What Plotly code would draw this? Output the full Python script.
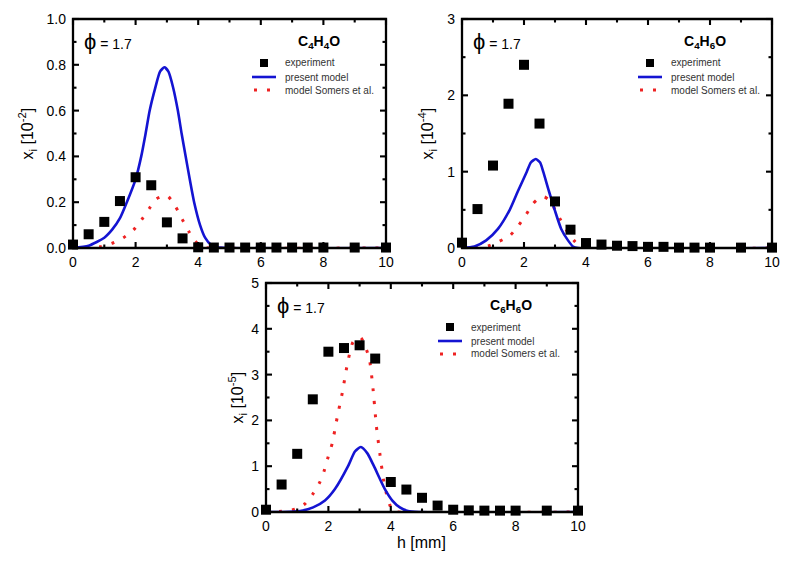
import plotly.graph_objects as go

# page has an 8px body margin: figure is 784x561 placed at (8, 8) in the 800x577 window
OFF = 8
W, H = 784, 561

# ---------------- data ----------------
h_exp = [0, 0.5, 1, 1.5, 2, 2.5, 3, 3.5, 4, 4.5, 5, 5.5, 6, 6.5, 7, 7.5, 8, 9, 10]

c4h4o_exp = [0.015, 0.06, 0.114, 0.205, 0.309, 0.274, 0.112, 0.042, 0.003, 0.002,
             0.002, 0.002, 0.002, 0.002, 0.002, 0.002, 0.002, 0.002, 0.002]
c4h6o_exp = [0.07, 0.51, 1.08, 1.89, 2.40, 1.63, 0.61, 0.24, 0.065, 0.045,
             0.03, 0.025, 0.015, 0.015, 0.005, 0.005, 0.005, 0.005, 0.005]
c6h6o_exp = [0.05, 0.6, 1.27, 2.46, 3.5, 3.58, 3.64, 3.35, 0.655, 0.49,
             0.31, 0.14, 0.05, 0.035, 0.03, 0.03, 0.03, 0.03, 0.03]

c4h4o_present_h = [0, 0.5, 1.0, 1.25, 1.5, 1.72, 2.0, 2.18, 2.32, 2.45, 2.63, 2.78, 2.92,
                   3.05, 3.2, 3.35, 3.47, 3.6, 3.73, 3.87, 4.06, 4.22, 4.4, 4.6, 5, 10]
c4h4o_present = [0, 0.01, 0.045, 0.08, 0.13, 0.2, 0.3, 0.4, 0.5, 0.6, 0.7, 0.77, 0.789,
                 0.77, 0.7, 0.6, 0.5, 0.4, 0.3, 0.2, 0.1, 0.045, 0.015, 0.003, 0, 0]
c4h4o_somers_h = [0, 0.5, 0.86, 1.24, 1.61, 1.94, 2.2, 2.45, 2.67, 3.01, 3.28, 3.49,
                  3.71, 3.87, 4.05, 4.25, 4.4, 10]
c4h4o_somers = [0, 0.001, 0.005, 0.02, 0.045, 0.08, 0.125, 0.175, 0.215, 0.228, 0.18,
                0.125, 0.07, 0.035, 0.012, 0.002, 0, 0]

c4h6o_present_h = [0, 0.4, 0.78, 1.16, 1.54, 1.81, 2.09, 2.22, 2.38, 2.52, 2.62, 2.8,
                   2.99, 3.2, 3.42, 3.58, 3.74, 10]
c4h6o_present = [0, 0.02, 0.1, 0.25, 0.5, 0.75, 1.0, 1.12, 1.166, 1.12, 1.0, 0.75,
                 0.5, 0.25, 0.1, 0.02, 0, 0]
c4h6o_somers_h = [0, 0.5, 0.84, 1.16, 1.54, 1.83, 2.08, 2.29, 2.45, 2.65, 2.8, 2.95,
                  3.15, 3.42, 3.63, 3.8, 4.0, 10]
c4h6o_somers = [0, 0.005, 0.026, 0.08, 0.16, 0.3, 0.445, 0.58, 0.64, 0.67, 0.63,
                0.54, 0.39, 0.2, 0.09, 0.03, 0, 0]

c6h6o_present_h = [0, 0.55, 1.09, 1.51, 1.89, 2.21, 2.63, 2.85, 3.04, 3.25, 3.46,
                   3.81, 4.05, 4.29, 4.55, 4.9, 10]
c6h6o_present = [0, 0, 0.02, 0.1, 0.25, 0.5, 1.0, 1.32, 1.42, 1.28, 1.0,
                 0.5, 0.25, 0.1, 0.02, 0, 0]
c6h6o_somers_h = [0, 0.5, 0.93, 1.25, 1.51, 1.73, 1.87, 1.99, 2.12, 2.28, 2.45, 2.6,
                  2.79, 3.03, 3.3, 3.43, 3.54, 3.65, 3.77, 3.86, 3.97, 4.07, 4.2, 10]
c6h6o_somers = [0, 0.015, 0.06, 0.18, 0.4, 0.66, 0.91, 1.2, 1.49, 2.06, 2.62, 3.2,
                3.71, 3.81, 3.38, 2.69, 1.86, 1.27, 0.69, 0.4, 0.15, 0.02, 0, 0]

species = ["C<sub>4</sub>H<sub>4</sub>O", "C<sub>4</sub>H<sub>6</sub>O", "C<sub>6</sub>H<sub>6</sub>O"]
ytitles = ["x<sub>i</sub> [10<sup>-2</sup>]", "x<sub>i</sub> [10<sup>-4</sup>]",
           "x<sub>i</sub> [10<sup>-5</sup>]"]
xtitle = "h [mm]"
legend_labels = ["experiment", "present model", "model Somers et al."]
phi_text = "<span style='font-size:22px'>ϕ</span> = 1.7"

x_major = [0, 2, 4, 6, 8, 10]
x_minor = [1, 3, 5, 7, 9]
y_major = [[0, 0.2, 0.4, 0.6, 0.8, 1.0], [0, 1, 2, 3], [0, 1, 2, 3, 4, 5]]
y_minor = [[0.1, 0.3, 0.5, 0.7, 0.9], [0.5, 1.5, 2.5], [0.5, 1.5, 2.5, 3.5, 4.5]]

# ---------------- layout geometry (window pixels) ----------------
boxes = [(73, 386, 19, 248), (462, 772, 19, 248), (266, 578, 283, 512)]
yranges = [[0, 1], [0, 3], [0, 5]]
ytitle_x = [28, 428, 237]

BLUE = "#1414d2"
RED = "#ee2222"
FONT = "Arial, Liberation Sans, sans-serif"

def fx(p):
    return (p - OFF) / W

def fy(p):
    return 1 - (p - OFF) / H

fig = go.Figure()

panels = [
    (c4h4o_exp, c4h4o_present_h, c4h4o_present, c4h4o_somers_h, c4h4o_somers),
    (c4h6o_exp, c4h6o_present_h, c4h6o_present, c4h6o_somers_h, c4h6o_somers),
    (c6h6o_exp, c6h6o_present_h, c6h6o_present, c6h6o_somers_h, c6h6o_somers),
]

for i, (exp, ph, pv, sh, sv) in enumerate(panels):
    xa = "x" if i == 0 else f"x{i+1}"
    ya = "y" if i == 0 else f"y{i+1}"
    fig.add_trace(go.Scatter(x=sh, y=sv, xaxis=xa, yaxis=ya, mode="lines",
                             line=dict(color=RED, width=3, dash="3px,10px", shape="spline", smoothing=0.6),
                             cliponaxis=False, showlegend=False))
    fig.add_trace(go.Scatter(x=ph, y=pv, xaxis=xa, yaxis=ya, mode="lines",
                             line=dict(color=BLUE, width=2.6, shape="spline", smoothing=0.6),
                             cliponaxis=False, showlegend=False))
    fig.add_trace(go.Scatter(x=h_exp, y=exp, xaxis=xa, yaxis=ya, mode="markers",
                             marker=dict(symbol="square", size=10, color="black"),
                             cliponaxis=False, showlegend=False))

fig.update_layout(template="none", width=W, height=H, margin=dict(l=0, r=0, t=0, b=0),
                  paper_bgcolor="white", plot_bgcolor="rgba(0,0,0,0)",
                  font=dict(family=FONT, color="black", size=14))

shapes = []
annotations = []
for i, (l, r, t, b) in enumerate(boxes):
    ya = "y" if i == 0 else f"y{i+1}"
    xa = "x" if i == 0 else f"x{i+1}"
    xkey = "xaxis" if i == 0 else f"xaxis{i+1}"
    ykey = "yaxis" if i == 0 else f"yaxis{i+1}"
    fig.update_layout({
        xkey: dict(domain=[fx(l), fx(r)], range=[0, 10], anchor=ya, automargin=False,
                   tickmode="array", tickvals=x_major, ticks="", showline=False,
                   showgrid=False, zeroline=False, ticklabelstandoff=4,
                   tickfont=dict(size=14, color="black")),
        ykey: dict(domain=[fy(b), fy(t)], range=yranges[i], anchor=xa, automargin=False,
                   tickmode="array", tickvals=y_major[i], ticks="", showline=False,
                   showgrid=False, zeroline=False, ticklabelstandoff=6,
                   tickformat=".1f" if i == 0 else "d",
                   tickfont=dict(size=14, color="black")),
    })

    ymax = yranges[i][1]

    def xp(v):
        return l + v / 10 * (r - l)

    def yp(v):
        return b - v / ymax * (b - t)

    # frame
    shapes.append(dict(type="rect", xref="paper", yref="paper",
                       x0=fx(l), x1=fx(r), y0=fy(b), y1=fy(t),
                       line=dict(color="#000000", width=2.3)))
    # ticks (inside, mirrored)
    for vals, ln, lw in ((x_major, 6, 2.1), (x_minor, 3.5, 2.1)):
        for v in vals:
            for p0, p1 in ((b, b - ln), (t, t + ln)):
                shapes.append(dict(type="line", xref="paper", yref="paper",
                                   x0=fx(xp(v)), x1=fx(xp(v)), y0=fy(p0), y1=fy(p1),
                                   line=dict(color="#000000", width=lw)))
    for vals, ln, lw in ((y_major[i], 6, 2.1), (y_minor[i], 3.5, 2.1)):
        for v in vals:
            for p0, p1 in ((l, l + ln), (r, r - ln)):
                shapes.append(dict(type="line", xref="paper", yref="paper",
                                   x0=fx(p0), x1=fx(p1), y0=fy(yp(v)), y1=fy(yp(v)),
                                   line=dict(color="#000000", width=lw)))

    # axis titles
    annotations.append(dict(x=fx(ytitle_x[i]), y=fy((t + b) / 2), xref="paper", yref="paper",
                            xanchor="center", yanchor="middle", showarrow=False, textangle=-90,
                            text=ytitles[i], font=dict(size=16)))
    if i == 2:
        annotations.append(dict(x=fx((l + r) / 2), y=fy(542), xref="paper", yref="paper",
                                xanchor="center", yanchor="middle", showarrow=False,
                                text=xtitle, font=dict(size=16)))

    # phi label
    annotations.append(dict(x=fx(l + 9), y=fy(t + 22), xref="paper", yref="paper",
                            xanchor="left", yanchor="middle", showarrow=False,
                            text=phi_text, font=dict(size=14)))
    # species label
    annotations.append(dict(x=fx(r - 44), y=fy(t + 23), xref="paper", yref="paper",
                            xanchor="right", yanchor="middle", showarrow=False,
                            text="<b>" + species[i] + "</b>", font=dict(size=14)))
    # manual legend
    lx0 = r - 134 if i < 2 else r - 140
    rows = [t + 44, t + 58, t + 71]
    shapes.append(dict(type="rect", xref="paper", yref="paper",
                       x0=fx(lx0 + 8), x1=fx(lx0 + 16), y0=fy(rows[0] + 4), y1=fy(rows[0] - 4),
                       fillcolor="black", line=dict(width=0)))
    shapes.append(dict(type="line", xref="paper", yref="paper",
                       x0=fx(lx0), x1=fx(lx0 + 24), y0=fy(rows[1]), y1=fy(rows[1]),
                       line=dict(color=BLUE, width=2.6)))
    shapes.append(dict(type="line", xref="paper", yref="paper",
                       x0=fx(lx0 + 2), x1=fx(lx0 + 24), y0=fy(rows[2]), y1=fy(rows[2]),
                       line=dict(color=RED, width=3, dash="3px,10px")))
    for k, lab in enumerate(legend_labels):
        annotations.append(dict(x=fx(lx0 + 31), y=fy(rows[k]), xref="paper", yref="paper",
                                xanchor="left", yanchor="middle", showarrow=False,
                                text=lab, font=dict(size=10, color="#333333")))

fig.update_layout(shapes=shapes, annotations=annotations)

fig.write_html("out.html")
